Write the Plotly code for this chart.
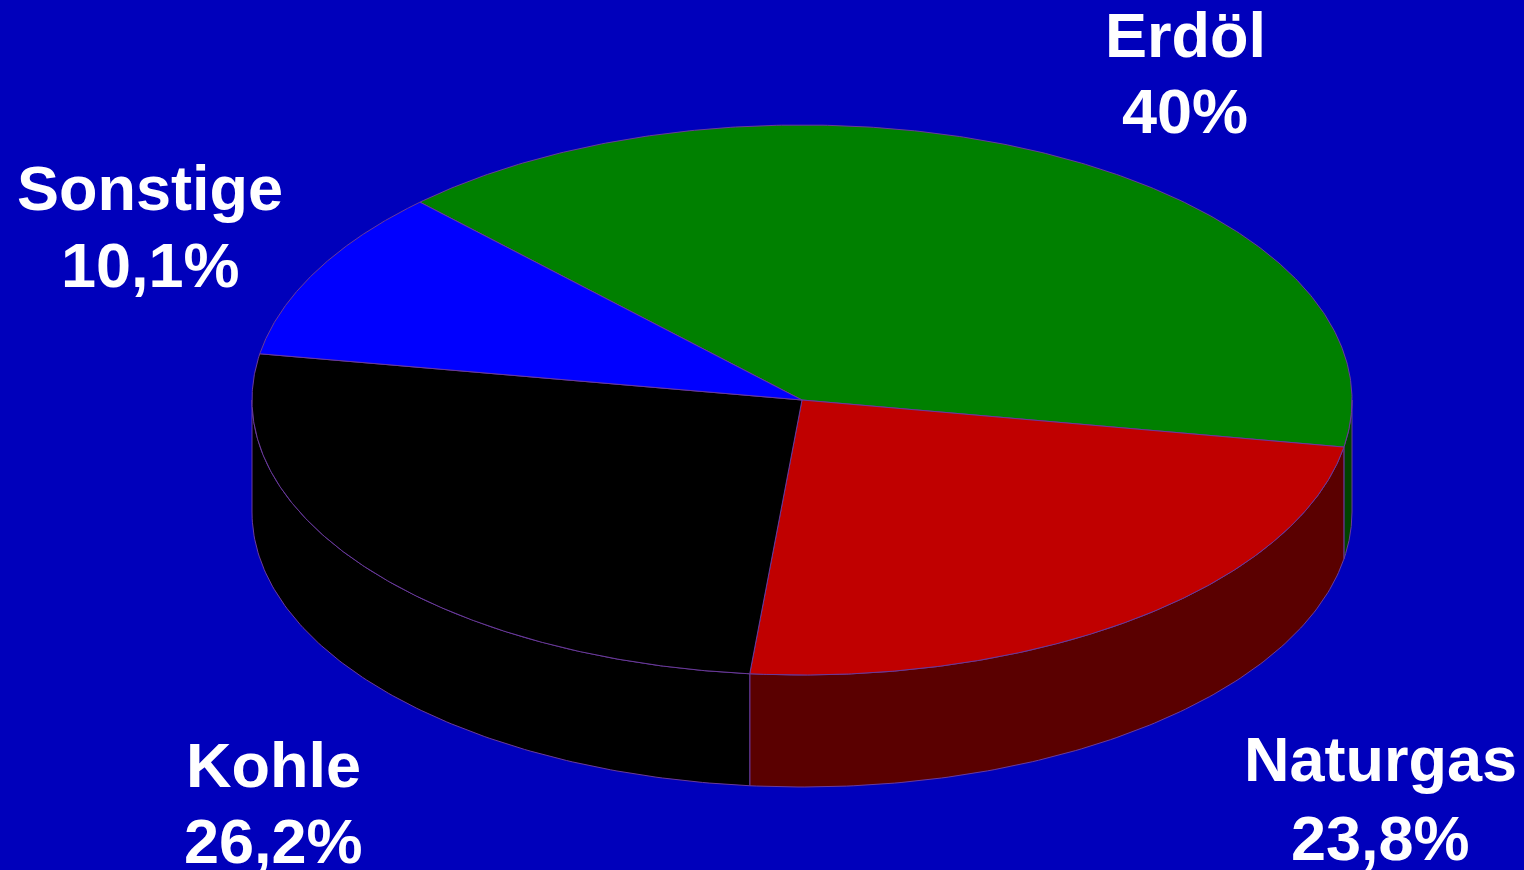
import numpy as np
import plotly.graph_objects as go

# ---- data ----
categories = ["Erdöl", "Naturgas", "Kohle", "Sonstige"]
values = [40.0, 23.8, 26.2, 10.1]
value_labels = ["40%", "23,8%", "26,2%", "10,1%"]

# ---- style ----
top_colors = ["#008000", "#C00000", "#000000", "#0000FF"]
side_colors = ["#004400", "#5A0000", "#000000", "#00007F"]
edge_color = "#6A3A9A"
bg = "#0000BB"
W, H = 1524, 870
cx, cy, rx, ry, depth = 802, 400, 550, 275, 112
start_angle = 134.0  # degrees, clockwise

label_pos = {  # (x, y of name line, y of value line) in pixels
    "Erdöl": (1185, 35, 111),
    "Naturgas": (1380, 759, 838),
    "Kohle": (273, 765, 841),
    "Sonstige": (150, 188, 265),
}


def pt(a_deg, dz=0.0):
    a = np.radians(a_deg)
    return cx + rx * np.cos(a), cy - ry * np.sin(a) + dz


fig = go.Figure()
total = sum(values)
bounds = []
acc = 0.0
for v in values:
    a0 = start_angle - acc / total * 360.0
    a1 = start_angle - (acc + v) / total * 360.0
    bounds.append((a1, a0))
    acc += v

# side walls (front half only)
for (a1, a0), sc in zip(bounds, side_colors):
    for k in (-1, 0, 1):
        lo = max(a1, -180 + 360 * k)
        hi = min(a0, 360 * k)
        if hi <= lo:
            continue
        ang = np.linspace(lo, hi, 120)
        xt, yt = pt(ang)
        xb, yb = pt(ang[::-1], depth)
        xs = np.concatenate([xt, xb, xt[:1]])
        ys = np.concatenate([yt, yb, yt[:1]])
        fig.add_trace(go.Scatter(x=xs, y=ys, mode="lines", fill="toself",
                                 fillcolor=sc, line=dict(color=edge_color, width=1),
                                 hoverinfo="skip"))

# top slices
for (a1, a0), tc, name in zip(bounds, top_colors, categories):
    ang = np.linspace(a0, a1, 300)
    xa, ya = pt(ang)
    xs = np.concatenate([[cx], xa, [cx]])
    ys = np.concatenate([[cy], ya, [cy]])
    fig.add_trace(go.Scatter(x=xs, y=ys, mode="lines", fill="toself",
                             fillcolor=tc, line=dict(color=edge_color, width=1),
                             name=name, hoverinfo="name"))

font = dict(family="Liberation Sans, Arial, sans-serif", size=63, color="white")
for name, lab in zip(categories, value_labels):
    x, y1, y2 = label_pos[name]
    for txt, yy in ((name, y1), (lab, y2)):
        fig.add_annotation(x=x, y=yy, xref="x", yref="y", text=f"<b>{txt}</b>",
                           showarrow=False, xanchor="center", yanchor="middle", font=font)

fig.update_layout(
    width=W, height=H, margin=dict(l=0, r=0, t=0, b=0),
    paper_bgcolor=bg, plot_bgcolor=bg, showlegend=False,
    xaxis=dict(range=[0, W], visible=False, fixedrange=True),
    yaxis=dict(range=[H, 0], visible=False, fixedrange=True),
)
fig.write_html("out.html", config={"displayModeBar": False},
               post_script="document.body.style.margin='0';document.body.style.overflow='hidden';")
